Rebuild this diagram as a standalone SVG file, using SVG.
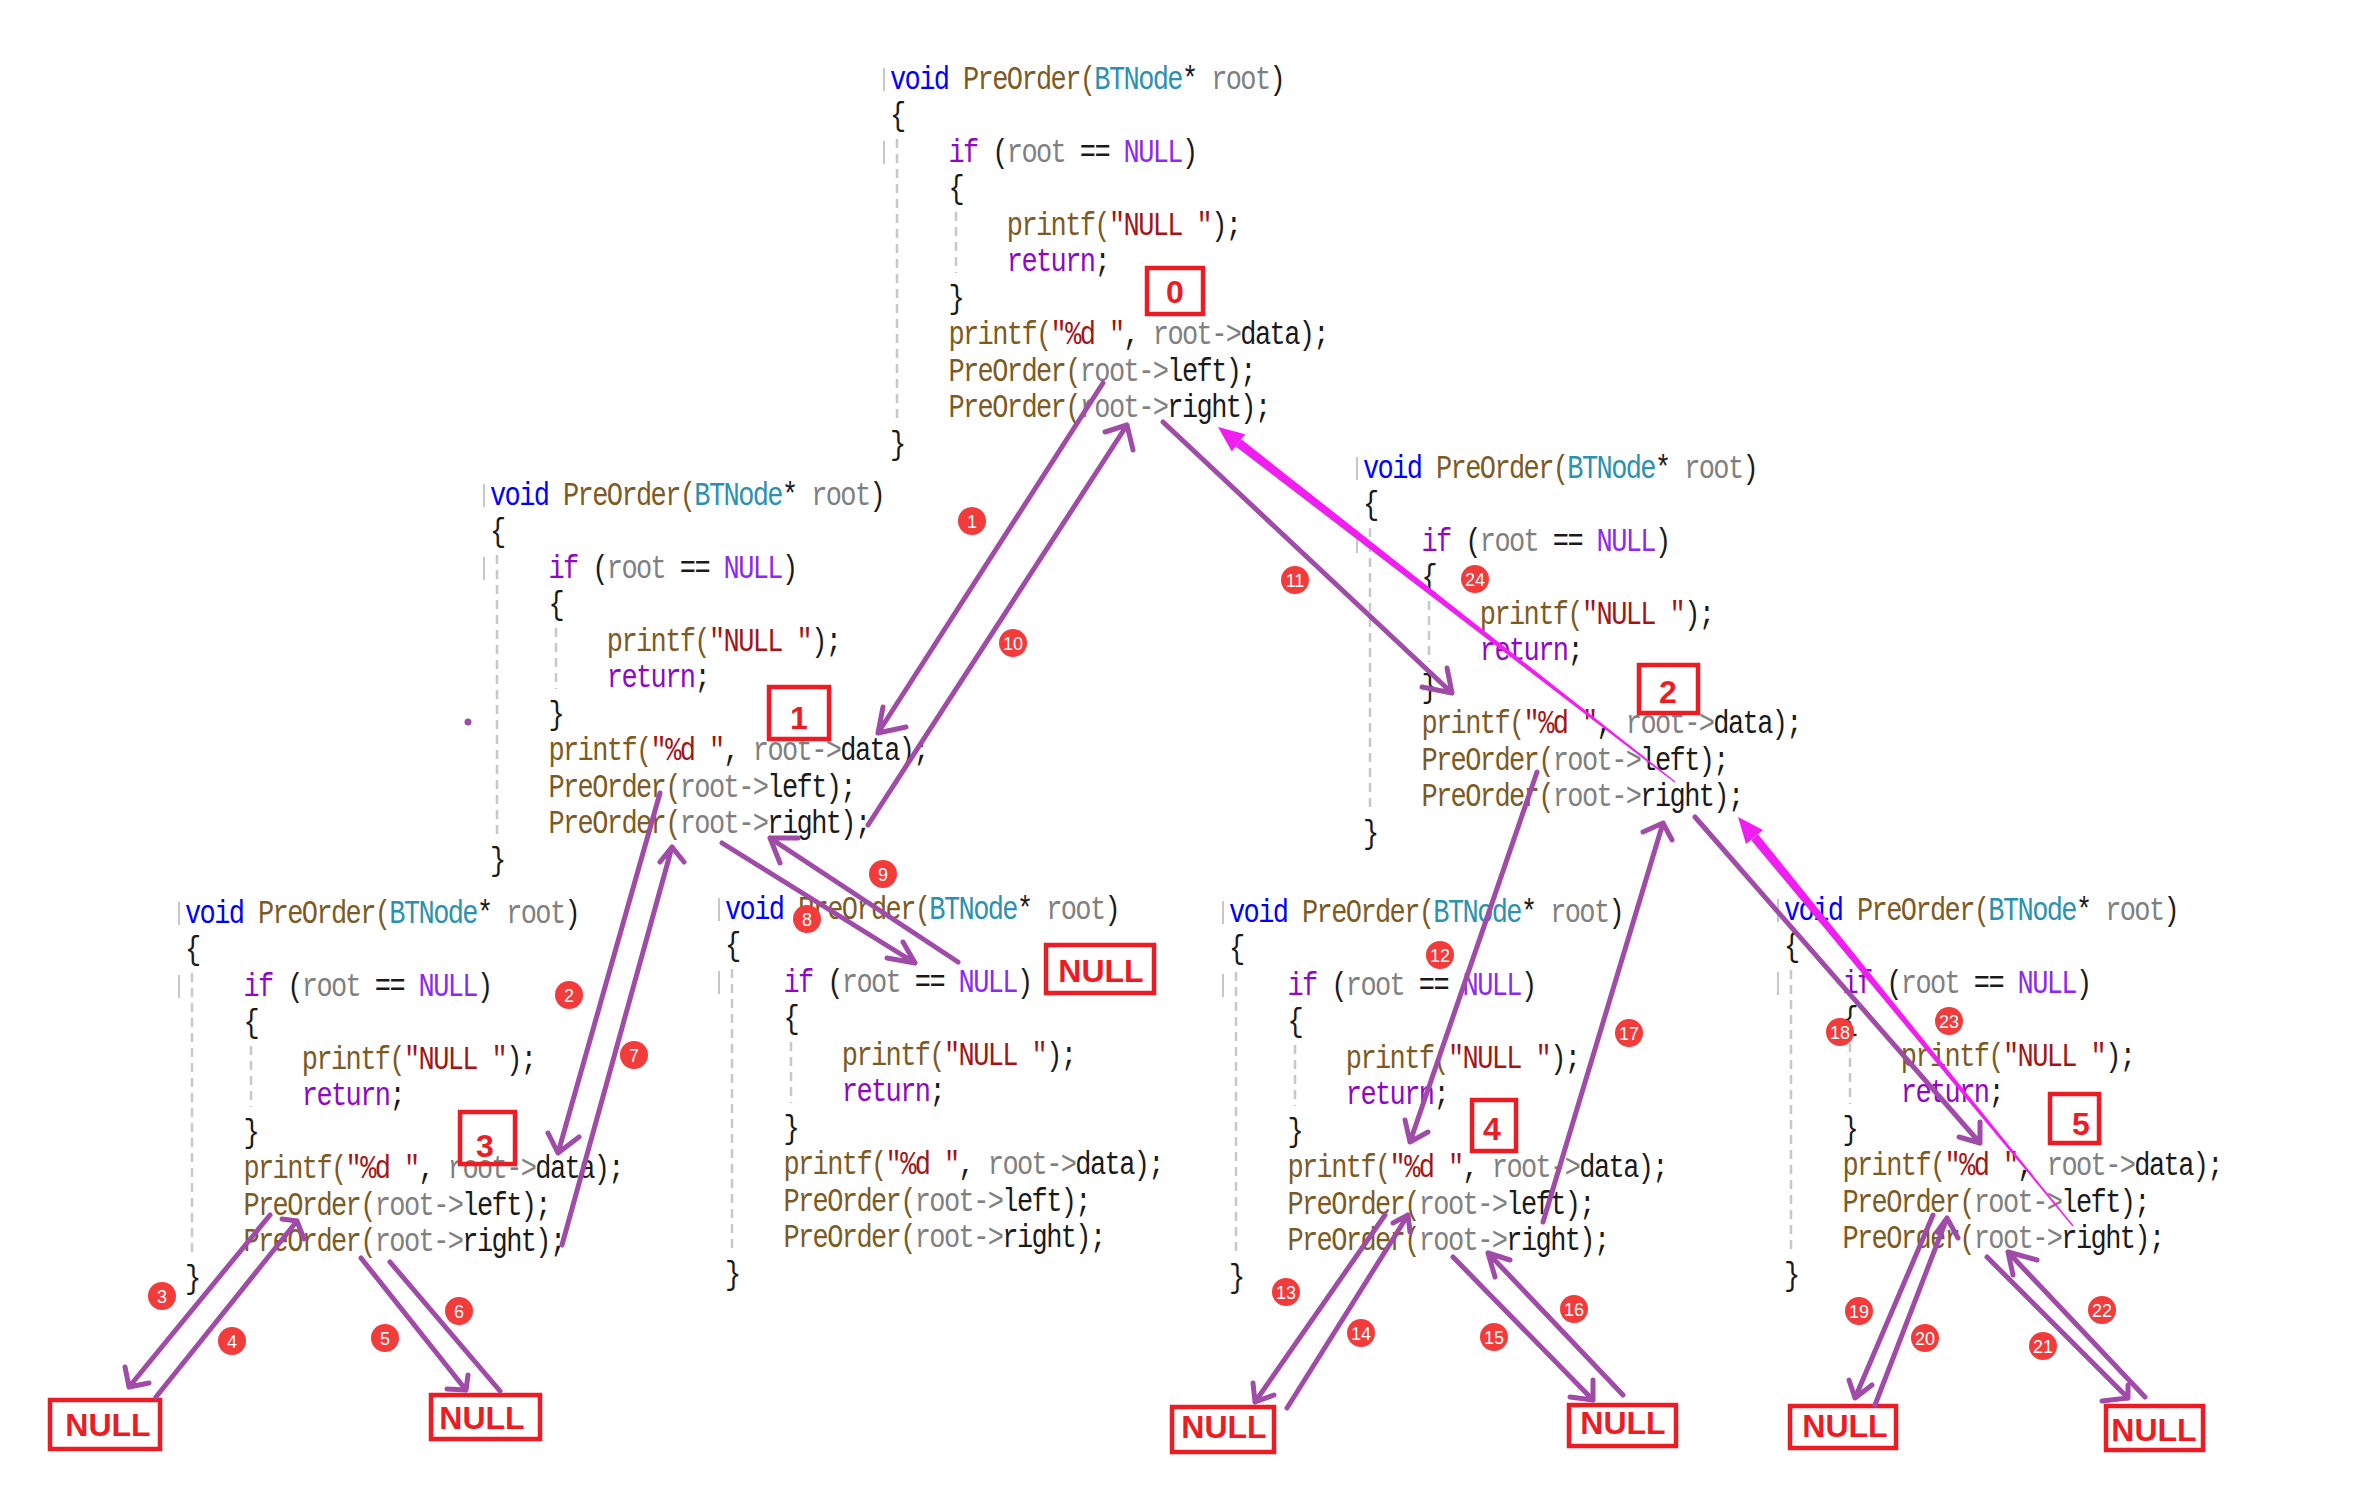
<svg xmlns="http://www.w3.org/2000/svg" width="2363" height="1512" viewBox="0 0 2363 1512">
<style>
.code text{font-family:"Liberation Mono","Courier New",monospace;font-size:27px;letter-spacing:-1.6px;fill:#1a1a1a;white-space:pre}
.k{fill:#0000ff}.f{fill:#7d5a23}.t{fill:#2b91af}.g{fill:#808080}.c{fill:#8f08c4}.m{fill:#8c28f0}.s{fill:#a31515}
.bar{stroke:#b4b4b4;stroke-width:1.5}
.guide{stroke:#c8c8c8;stroke-width:2.5;stroke-dasharray:9 6}
.box{fill:none;stroke:#ed1c24;stroke-width:4.5}
.lbl{font-family:"Liberation Sans",Arial,sans-serif;font-weight:bold;font-size:32px;fill:#ed1c24;text-anchor:middle}
.arr{fill:none;stroke:#a04ba8;stroke-width:5;stroke-linecap:round;stroke-linejoin:round}
.mag{fill:#f01ef0;stroke:none}
.badge circle{fill:#f23b3b}
.badge text{font-family:"Liberation Sans",Arial,sans-serif;font-size:18px;fill:#ffffff;text-anchor:middle}
</style>
<rect width="2363" height="1512" fill="#ffffff"/>

<g id="call0" transform="translate(890,89)">
<line class="bar" x1="-6" y1="-21" x2="-6" y2="2"/><line class="bar" x1="-6" y1="52" x2="-6" y2="75"/>
<line class="guide" x1="7" y1="50" x2="7" y2="330"/><line class="guide" x1="66" y1="123" x2="66" y2="184"/>
<g class="code" transform="scale(1,1.2)" xml:space="preserve">
<text x="0" y="0"><tspan class="k">void</tspan> <tspan class="f">PreOrder(</tspan><tspan class="t">BTNode</tspan>* <tspan class="g">root</tspan>)</text>
<text x="0" y="30.42" class="f">{</text>
<text x="58.4" y="60.83"><tspan class="c">if</tspan> (<tspan class="g">root</tspan> == <tspan class="m">NULL</tspan>)</text>
<text x="58.4" y="91.25" class="f">{</text>
<text x="116.8" y="121.67"><tspan class="f">printf(</tspan><tspan class="s">"NULL "</tspan>);</text>
<text x="116.8" y="152.08"><tspan class="c">return</tspan>;</text>
<text x="58.4" y="182.5" class="f">}</text>
<text x="58.4" y="212.92"><tspan class="f">printf(</tspan><tspan class="s">"%d "</tspan>, <tspan class="g">root-&gt;</tspan>data);</text>
<text x="58.4" y="243.33"><tspan class="f">PreOrder(</tspan><tspan class="g">root-&gt;</tspan>left);</text>
<text x="58.4" y="273.75"><tspan class="f">PreOrder(</tspan><tspan class="g">root-&gt;</tspan>right);</text>
<text x="0" y="304.17" class="f">}</text>
</g>
<rect class="box" x="257" y="179" width="56" height="46"/>
<text class="lbl" x="285" y="214">0</text>
</g>

<g id="call1" transform="translate(490,505)">
<line class="bar" x1="-6" y1="-21" x2="-6" y2="2"/><line class="bar" x1="-6" y1="52" x2="-6" y2="75"/>
<line class="guide" x1="7" y1="50" x2="7" y2="330"/><line class="guide" x1="66" y1="123" x2="66" y2="184"/>
<g class="code" transform="scale(1,1.2)" xml:space="preserve">
<text x="0" y="0"><tspan class="k">void</tspan> <tspan class="f">PreOrder(</tspan><tspan class="t">BTNode</tspan>* <tspan class="g">root</tspan>)</text>
<text x="0" y="30.42" class="f">{</text>
<text x="58.4" y="60.83"><tspan class="c">if</tspan> (<tspan class="g">root</tspan> == <tspan class="m">NULL</tspan>)</text>
<text x="58.4" y="91.25" class="f">{</text>
<text x="116.8" y="121.67"><tspan class="f">printf(</tspan><tspan class="s">"NULL "</tspan>);</text>
<text x="116.8" y="152.08"><tspan class="c">return</tspan>;</text>
<text x="58.4" y="182.5" class="f">}</text>
<text x="58.4" y="212.92"><tspan class="f">printf(</tspan><tspan class="s">"%d "</tspan>, <tspan class="g">root-&gt;</tspan>data);</text>
<text x="58.4" y="243.33"><tspan class="f">PreOrder(</tspan><tspan class="g">root-&gt;</tspan>left);</text>
<text x="58.4" y="273.75"><tspan class="f">PreOrder(</tspan><tspan class="g">root-&gt;</tspan>right);</text>
<text x="0" y="304.17" class="f">}</text>
</g>
<rect class="box" x="279" y="182" width="60" height="52"/>
<text class="lbl" x="309" y="224">1</text>
<circle cx="-22" cy="217" r="3.5" fill="#a04ba8"/>
</g>

<g id="call2" transform="translate(1363,478)">
<line class="bar" x1="-6" y1="-21" x2="-6" y2="2"/><line class="bar" x1="-6" y1="52" x2="-6" y2="75"/>
<line class="guide" x1="7" y1="50" x2="7" y2="330"/><line class="guide" x1="66" y1="123" x2="66" y2="184"/>
<g class="code" transform="scale(1,1.2)" xml:space="preserve">
<text x="0" y="0"><tspan class="k">void</tspan> <tspan class="f">PreOrder(</tspan><tspan class="t">BTNode</tspan>* <tspan class="g">root</tspan>)</text>
<text x="0" y="30.42" class="f">{</text>
<text x="58.4" y="60.83"><tspan class="c">if</tspan> (<tspan class="g">root</tspan> == <tspan class="m">NULL</tspan>)</text>
<text x="58.4" y="91.25" class="f">{</text>
<text x="116.8" y="121.67"><tspan class="f">printf(</tspan><tspan class="s">"NULL "</tspan>);</text>
<text x="116.8" y="152.08"><tspan class="c">return</tspan>;</text>
<text x="58.4" y="182.5" class="f">}</text>
<text x="58.4" y="212.92"><tspan class="f">printf(</tspan><tspan class="s">"%d "</tspan>, <tspan class="g">root-&gt;</tspan>data);</text>
<text x="58.4" y="243.33"><tspan class="f">PreOrder(</tspan><tspan class="g">root-&gt;</tspan>left);</text>
<text x="58.4" y="273.75"><tspan class="f">PreOrder(</tspan><tspan class="g">root-&gt;</tspan>right);</text>
<text x="0" y="304.17" class="f">}</text>
</g>
<rect class="box" x="276" y="187" width="59" height="48"/>
<text class="lbl" x="305" y="225">2</text>
</g>

<g id="call3" transform="translate(185,923)">
<line class="bar" x1="-6" y1="-21" x2="-6" y2="2"/><line class="bar" x1="-6" y1="52" x2="-6" y2="75"/>
<line class="guide" x1="7" y1="50" x2="7" y2="330"/><line class="guide" x1="66" y1="123" x2="66" y2="184"/>
<g class="code" transform="scale(1,1.2)" xml:space="preserve">
<text x="0" y="0"><tspan class="k">void</tspan> <tspan class="f">PreOrder(</tspan><tspan class="t">BTNode</tspan>* <tspan class="g">root</tspan>)</text>
<text x="0" y="30.42" class="f">{</text>
<text x="58.4" y="60.83"><tspan class="c">if</tspan> (<tspan class="g">root</tspan> == <tspan class="m">NULL</tspan>)</text>
<text x="58.4" y="91.25" class="f">{</text>
<text x="116.8" y="121.67"><tspan class="f">printf(</tspan><tspan class="s">"NULL "</tspan>);</text>
<text x="116.8" y="152.08"><tspan class="c">return</tspan>;</text>
<text x="58.4" y="182.5" class="f">}</text>
<text x="58.4" y="212.92"><tspan class="f">printf(</tspan><tspan class="s">"%d "</tspan>, <tspan class="g">root-&gt;</tspan>data);</text>
<text x="58.4" y="243.33"><tspan class="f">PreOrder(</tspan><tspan class="g">root-&gt;</tspan>left);</text>
<text x="58.4" y="273.75"><tspan class="f">PreOrder(</tspan><tspan class="g">root-&gt;</tspan>right);</text>
<text x="0" y="304.17" class="f">}</text>
</g>
<rect class="box" x="275" y="189" width="55" height="52"/>
<text class="lbl" x="300" y="234">3</text>
</g>

<g id="call1r" transform="translate(725,919)">
<line class="bar" x1="-6" y1="-21" x2="-6" y2="2"/><line class="bar" x1="-6" y1="52" x2="-6" y2="75"/>
<line class="guide" x1="7" y1="50" x2="7" y2="330"/><line class="guide" x1="66" y1="123" x2="66" y2="184"/>
<g class="code" transform="scale(1,1.2)" xml:space="preserve">
<text x="0" y="0"><tspan class="k">void</tspan> <tspan class="f">PreOrder(</tspan><tspan class="t">BTNode</tspan>* <tspan class="g">root</tspan>)</text>
<text x="0" y="30.42" class="f">{</text>
<text x="58.4" y="60.83"><tspan class="c">if</tspan> (<tspan class="g">root</tspan> == <tspan class="m">NULL</tspan>)</text>
<text x="58.4" y="91.25" class="f">{</text>
<text x="116.8" y="121.67"><tspan class="f">printf(</tspan><tspan class="s">"NULL "</tspan>);</text>
<text x="116.8" y="152.08"><tspan class="c">return</tspan>;</text>
<text x="58.4" y="182.5" class="f">}</text>
<text x="58.4" y="212.92"><tspan class="f">printf(</tspan><tspan class="s">"%d "</tspan>, <tspan class="g">root-&gt;</tspan>data);</text>
<text x="58.4" y="243.33"><tspan class="f">PreOrder(</tspan><tspan class="g">root-&gt;</tspan>left);</text>
<text x="58.4" y="273.75"><tspan class="f">PreOrder(</tspan><tspan class="g">root-&gt;</tspan>right);</text>
<text x="0" y="304.17" class="f">}</text>
</g>
<rect class="box" x="321" y="26" width="108" height="48"/>
<text class="lbl" x="376" y="63">NULL</text>
</g>

<g id="call4" transform="translate(1229,922)">
<line class="bar" x1="-6" y1="-21" x2="-6" y2="2"/><line class="bar" x1="-6" y1="52" x2="-6" y2="75"/>
<line class="guide" x1="7" y1="50" x2="7" y2="330"/><line class="guide" x1="66" y1="123" x2="66" y2="184"/>
<g class="code" transform="scale(1,1.2)" xml:space="preserve">
<text x="0" y="0"><tspan class="k">void</tspan> <tspan class="f">PreOrder(</tspan><tspan class="t">BTNode</tspan>* <tspan class="g">root</tspan>)</text>
<text x="0" y="30.42" class="f">{</text>
<text x="58.4" y="60.83"><tspan class="c">if</tspan> (<tspan class="g">root</tspan> == <tspan class="m">NULL</tspan>)</text>
<text x="58.4" y="91.25" class="f">{</text>
<text x="116.8" y="121.67"><tspan class="f">printf(</tspan><tspan class="s">"NULL "</tspan>);</text>
<text x="116.8" y="152.08"><tspan class="c">return</tspan>;</text>
<text x="58.4" y="182.5" class="f">}</text>
<text x="58.4" y="212.92"><tspan class="f">printf(</tspan><tspan class="s">"%d "</tspan>, <tspan class="g">root-&gt;</tspan>data);</text>
<text x="58.4" y="243.33"><tspan class="f">PreOrder(</tspan><tspan class="g">root-&gt;</tspan>left);</text>
<text x="58.4" y="273.75"><tspan class="f">PreOrder(</tspan><tspan class="g">root-&gt;</tspan>right);</text>
<text x="0" y="304.17" class="f">}</text>
</g>
<rect class="box" x="243" y="178" width="44" height="51"/>
<text class="lbl" x="263" y="218">4</text>
</g>

<g id="call5" transform="translate(1784,920)">
<line class="bar" x1="-6" y1="-21" x2="-6" y2="2"/><line class="bar" x1="-6" y1="52" x2="-6" y2="75"/>
<line class="guide" x1="7" y1="50" x2="7" y2="330"/><line class="guide" x1="66" y1="123" x2="66" y2="184"/>
<g class="code" transform="scale(1,1.2)" xml:space="preserve">
<text x="0" y="0"><tspan class="k">void</tspan> <tspan class="f">PreOrder(</tspan><tspan class="t">BTNode</tspan>* <tspan class="g">root</tspan>)</text>
<text x="0" y="30.42" class="f">{</text>
<text x="58.4" y="60.83"><tspan class="c">if</tspan> (<tspan class="g">root</tspan> == <tspan class="m">NULL</tspan>)</text>
<text x="58.4" y="91.25" class="f">{</text>
<text x="116.8" y="121.67"><tspan class="f">printf(</tspan><tspan class="s">"NULL "</tspan>);</text>
<text x="116.8" y="152.08"><tspan class="c">return</tspan>;</text>
<text x="58.4" y="182.5" class="f">}</text>
<text x="58.4" y="212.92"><tspan class="f">printf(</tspan><tspan class="s">"%d "</tspan>, <tspan class="g">root-&gt;</tspan>data);</text>
<text x="58.4" y="243.33"><tspan class="f">PreOrder(</tspan><tspan class="g">root-&gt;</tspan>left);</text>
<text x="58.4" y="273.75"><tspan class="f">PreOrder(</tspan><tspan class="g">root-&gt;</tspan>right);</text>
<text x="0" y="304.17" class="f">}</text>
</g>
<rect class="box" x="266" y="174" width="49" height="49"/>
<text class="lbl" x="297" y="215">5</text>
</g>

<g id="null3L"><rect class="box" x="50" y="1400" width="110" height="49"/><text class="lbl" x="108" y="1436">NULL</text></g>
<g id="null3R"><rect class="box" x="431" y="1395" width="109" height="44"/><text class="lbl" x="482" y="1429">NULL</text></g>
<g id="null4L"><rect class="box" x="1172" y="1407" width="102" height="45"/><text class="lbl" x="1224" y="1438">NULL</text></g>
<g id="null4R"><rect class="box" x="1569" y="1405" width="107" height="41"/><text class="lbl" x="1623" y="1434">NULL</text></g>
<g id="null5L"><rect class="box" x="1790" y="1406" width="106" height="42"/><text class="lbl" x="1845" y="1437">NULL</text></g>
<g id="null5R"><rect class="box" x="2106" y="1406" width="97" height="44"/><text class="lbl" x="2154" y="1441">NULL</text></g>

<g id="connectors">
<path class="arr" d="M1103,383 L878,733 M883,707 L878,733 L906,727"/>
<path class="arr" d="M660,793 L558,1153 M548,1133 L558,1153 L579,1137"/>
<path class="arr" d="M270,1215 L129,1387 M125,1367 L129,1387 L149,1383"/>
<path class="arr" d="M156,1397 L297,1221 M282,1219 L297,1221 L304,1239"/>
<path class="arr" d="M361,1258 L466,1390 M468,1375 L466,1390 L447,1389"/>
<path class="arr" d="M500,1391 L390,1262"/>
<path class="arr" d="M562,1245 L672,847 M660,862 L672,847 L684,862"/>
<path class="arr" d="M722,843 L915,963 M903,942 L915,963 L887,958"/>
<path class="arr" d="M958,962 L770,838 M780,863 L770,838 L798,838"/>
<path class="arr" d="M868,825 L1127,425 M1105,432 L1127,425 L1133,450"/>
<path class="arr" d="M1163,422 L1452,693 M1447,668 L1452,693 L1422,687"/>
<path class="arr" d="M1537,772 L1410,1142 M1405,1120 L1410,1142 L1428,1132"/>
<path class="arr" d="M1385,1215 L1255,1402 M1253,1383 L1255,1402 L1274,1395"/>
<path class="arr" d="M1287,1408 L1408,1215 M1393,1223 L1408,1215 L1410,1232"/>
<path class="arr" d="M1453,1257 L1593,1400 M1593,1380 L1593,1400 L1570,1397"/>
<path class="arr" d="M1623,1395 L1488,1253 M1495,1277 L1488,1253 L1510,1260"/>
<path class="arr" d="M1543,1222 L1663,823 M1643,832 L1663,823 L1672,840"/>
<path class="arr" d="M1695,817 L1980,1143 M1980,1122 L1980,1143 L1959,1137"/>
<path class="arr" d="M1933,1215 L1855,1398 M1849,1380 L1855,1398 L1872,1385"/>
<path class="arr" d="M1875,1405 L1947,1218 M1937,1232 L1947,1218 L1958,1238"/>
<path class="arr" d="M1987,1257 L2128,1398 M2128,1385 L2128,1398 L2102,1401"/>
<path class="arr" d="M2145,1397 L2008,1252 M2013,1275 L2008,1252 L2037,1260"/>
<polygon class="mag" points="1218,427 1245.2,434.2 1231.8,451.6"/>
<polygon class="mag" points="1241.3,439.3 1675.4,781.4 1674.6,782.6 1235.7,446.5"/>
<polygon class="mag" points="1738,817 1763,830.1 1746,844.1"/>
<polygon class="mag" points="1758,834.3 2073.5,1225.6 2072.5,1226.4 1751,839.9"/>
</g>

<g id="badges">
<g class="badge"><circle cx="972" cy="521" r="14"/><text x="972" y="527.5">1</text></g>
<g class="badge"><circle cx="569" cy="995" r="14"/><text x="569" y="1001.5">2</text></g>
<g class="badge"><circle cx="162" cy="1296" r="14"/><text x="162" y="1302.5">3</text></g>
<g class="badge"><circle cx="232" cy="1341" r="14"/><text x="232" y="1347.5">4</text></g>
<g class="badge"><circle cx="385" cy="1338" r="14"/><text x="385" y="1344.5">5</text></g>
<g class="badge"><circle cx="459" cy="1311" r="14"/><text x="459" y="1317.5">6</text></g>
<g class="badge"><circle cx="634" cy="1055" r="14"/><text x="634" y="1061.5">7</text></g>
<g class="badge"><circle cx="807" cy="919" r="14"/><text x="807" y="925.5">8</text></g>
<g class="badge"><circle cx="883" cy="874" r="14"/><text x="883" y="880.5">9</text></g>
<g class="badge"><circle cx="1013" cy="643" r="14"/><text x="1013" y="649.5">10</text></g>
<g class="badge"><circle cx="1295" cy="580" r="14"/><text x="1295" y="586.5">11</text></g>
<g class="badge"><circle cx="1440" cy="955" r="14"/><text x="1440" y="961.5">12</text></g>
<g class="badge"><circle cx="1286" cy="1292" r="14"/><text x="1286" y="1298.5">13</text></g>
<g class="badge"><circle cx="1361" cy="1333" r="14"/><text x="1361" y="1339.5">14</text></g>
<g class="badge"><circle cx="1494" cy="1337" r="14"/><text x="1494" y="1343.5">15</text></g>
<g class="badge"><circle cx="1574" cy="1309" r="14"/><text x="1574" y="1315.5">16</text></g>
<g class="badge"><circle cx="1629" cy="1033" r="14"/><text x="1629" y="1039.5">17</text></g>
<g class="badge"><circle cx="1840" cy="1032" r="14"/><text x="1840" y="1038.5">18</text></g>
<g class="badge"><circle cx="1859" cy="1311" r="14"/><text x="1859" y="1317.5">19</text></g>
<g class="badge"><circle cx="1925" cy="1338" r="14"/><text x="1925" y="1344.5">20</text></g>
<g class="badge"><circle cx="2043" cy="1346" r="14"/><text x="2043" y="1352.5">21</text></g>
<g class="badge"><circle cx="2102" cy="1310" r="14"/><text x="2102" y="1316.5">22</text></g>
<g class="badge"><circle cx="1949" cy="1021" r="14"/><text x="1949" y="1027.5">23</text></g>
<g class="badge"><circle cx="1475" cy="579" r="14"/><text x="1475" y="585.5">24</text></g>
</g>
</svg>
